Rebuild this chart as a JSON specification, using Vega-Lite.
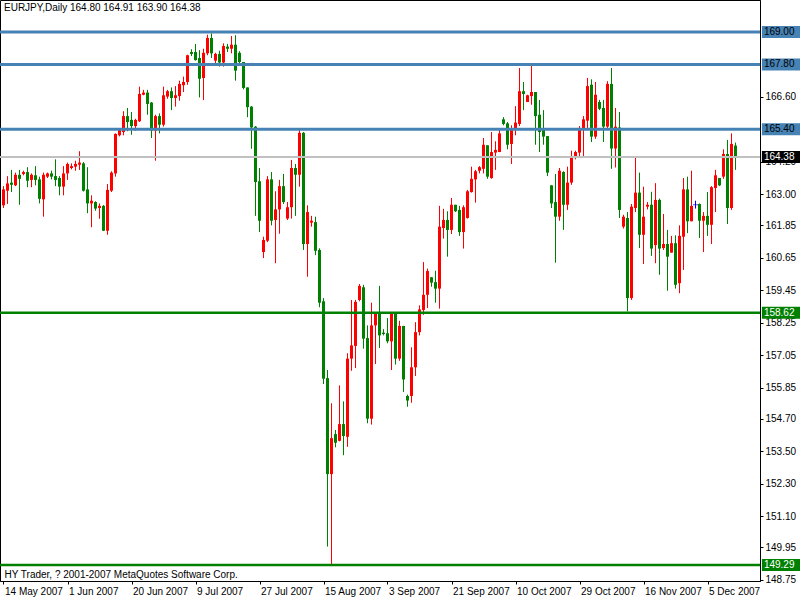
{
"$schema":"https://vega.github.io/schema/vega-lite/v6.json",
"width":760,"height":581,
"autosize":"none",
"padding":{"left":0,"top":0,"right":40,"bottom":19},
"background":"white",
"config":{"view":{"stroke":"black","strokeWidth":1},"font":"Liberation Sans","axis":{"labelOverlap":false},"axisY":{"labelOverlap":false}},
"title":{"text":"EURJPY,Daily  164.80 164.91 163.90 164.38","anchor":"start","frame":"group","offset":-13,"dx":4,"font":"Liberation Sans","fontSize":10,"fontWeight":"normal","color":"black"},
"datasets":{
"candles":[
{"i":0,"o":162.59,"h":163.30,"l":162.49,"c":163.18},
{"i":1,"o":163.13,"h":163.67,"l":162.64,"c":163.40},
{"i":2,"o":163.43,"h":163.90,"l":163.08,"c":163.35},
{"i":3,"o":163.33,"h":163.80,"l":163.30,"c":163.72},
{"i":4,"o":163.72,"h":163.90,"l":162.61,"c":163.57},
{"i":5,"o":163.75,"h":163.87,"l":163.70,"c":163.82},
{"i":6,"o":163.82,"h":164.00,"l":163.26,"c":163.50},
{"i":7,"o":163.53,"h":163.77,"l":163.26,"c":163.72},
{"i":8,"o":163.70,"h":164.04,"l":163.33,"c":163.53},
{"i":9,"o":163.55,"h":163.65,"l":162.66,"c":162.83},
{"i":10,"o":162.81,"h":163.80,"l":162.17,"c":163.72},
{"i":11,"o":163.65,"h":163.80,"l":163.60,"c":163.77},
{"i":12,"o":163.77,"h":163.87,"l":163.55,"c":163.65},
{"i":13,"o":163.67,"h":164.29,"l":163.30,"c":163.53},
{"i":14,"o":163.60,"h":163.67,"l":162.96,"c":163.28},
{"i":15,"o":163.28,"h":164.04,"l":162.96,"c":163.77},
{"i":16,"o":163.77,"h":164.17,"l":163.53,"c":164.12},
{"i":17,"o":163.97,"h":164.14,"l":163.92,"c":164.04},
{"i":18,"o":164.02,"h":164.24,"l":163.87,"c":164.12},
{"i":19,"o":164.09,"h":164.59,"l":163.90,"c":164.17},
{"i":20,"o":164.14,"h":164.19,"l":163.10,"c":163.13},
{"i":21,"o":163.18,"h":164.00,"l":162.30,"c":162.66},
{"i":22,"o":162.66,"h":162.96,"l":161.78,"c":162.76},
{"i":23,"o":162.71,"h":162.74,"l":162.39,"c":162.47},
{"i":24,"o":162.49,"h":162.66,"l":162.09,"c":162.57},
{"i":25,"o":162.57,"h":162.60,"l":161.64,"c":161.65},
{"i":26,"o":161.65,"h":163.38,"l":161.50,"c":163.16},
{"i":27,"o":163.13,"h":163.85,"l":163.08,"c":163.80},
{"i":28,"o":163.77,"h":165.25,"l":163.65,"c":165.23},
{"i":29,"o":165.18,"h":165.42,"l":165.14,"c":165.38},
{"i":30,"o":165.30,"h":166.07,"l":165.18,"c":165.89},
{"i":31,"o":165.89,"h":166.19,"l":165.33,"c":165.67},
{"i":32,"o":165.75,"h":166.04,"l":165.20,"c":165.52},
{"i":33,"o":165.52,"h":165.79,"l":165.35,"c":165.75},
{"i":34,"o":165.70,"h":166.98,"l":165.67,"c":166.71},
{"i":35,"o":166.68,"h":166.86,"l":166.66,"c":166.76},
{"i":36,"o":166.76,"h":166.86,"l":165.94,"c":166.34},
{"i":37,"o":166.39,"h":166.41,"l":165.08,"c":165.35},
{"i":38,"o":165.35,"h":165.94,"l":164.24,"c":165.89},
{"i":39,"o":165.89,"h":165.99,"l":165.25,"c":165.57},
{"i":40,"o":165.57,"h":166.98,"l":165.50,"c":166.66},
{"i":41,"o":166.61,"h":166.86,"l":166.53,"c":166.81},
{"i":42,"o":166.81,"h":166.95,"l":166.11,"c":166.56},
{"i":43,"o":166.56,"h":167.00,"l":166.24,"c":166.66},
{"i":44,"o":166.63,"h":167.20,"l":166.46,"c":167.08},
{"i":45,"o":167.03,"h":167.35,"l":166.78,"c":167.15},
{"i":46,"o":167.15,"h":168.16,"l":167.05,"c":168.14},
{"i":47,"o":168.26,"h":168.36,"l":168.11,"c":168.19},
{"i":48,"o":168.26,"h":168.56,"l":167.94,"c":167.96},
{"i":49,"o":168.04,"h":168.33,"l":166.58,"c":167.27},
{"i":50,"o":167.30,"h":168.38,"l":166.48,"c":168.23},
{"i":51,"o":168.21,"h":168.90,"l":168.14,"c":168.78},
{"i":52,"o":168.78,"h":168.95,"l":168.04,"c":168.21},
{"i":53,"o":167.94,"h":168.23,"l":167.74,"c":168.19},
{"i":54,"o":168.19,"h":168.31,"l":167.72,"c":167.87},
{"i":55,"o":167.87,"h":168.58,"l":167.72,"c":168.48},
{"i":56,"o":168.46,"h":168.56,"l":168.26,"c":168.38},
{"i":57,"o":168.38,"h":168.85,"l":168.21,"c":168.53},
{"i":58,"o":168.53,"h":168.88,"l":167.20,"c":167.57},
{"i":59,"o":168.23,"h":168.29,"l":167.84,"c":167.89},
{"i":60,"o":167.89,"h":167.89,"l":166.88,"c":166.93},
{"i":61,"o":166.95,"h":166.95,"l":165.85,"c":166.22},
{"i":62,"o":166.24,"h":166.26,"l":164.68,"c":165.47},
{"i":63,"o":165.50,"h":165.52,"l":162.20,"c":163.45},
{"i":64,"o":163.48,"h":163.97,"l":161.60,"c":162.02},
{"i":65,"o":160.86,"h":161.43,"l":160.64,"c":161.31},
{"i":66,"o":161.28,"h":163.67,"l":161.23,"c":163.55},
{"i":67,"o":163.55,"h":163.82,"l":161.85,"c":162.02},
{"i":68,"o":162.05,"h":163.11,"l":160.45,"c":162.44},
{"i":69,"o":162.44,"h":163.53,"l":161.54,"c":163.30},
{"i":70,"o":163.30,"h":163.75,"l":162.64,"c":162.71},
{"i":71,"o":162.10,"h":162.71,"l":162.05,"c":162.52},
{"i":72,"o":162.52,"h":164.27,"l":162.10,"c":163.97},
{"i":73,"o":163.97,"h":164.12,"l":162.20,"c":163.72},
{"i":74,"o":163.72,"h":165.42,"l":163.28,"c":165.27},
{"i":75,"o":165.27,"h":165.30,"l":160.94,"c":161.16},
{"i":76,"o":161.16,"h":162.59,"l":159.95,"c":162.34},
{"i":77,"o":161.95,"h":162.20,"l":161.80,"c":162.02},
{"i":78,"o":161.97,"h":162.17,"l":160.75,"c":160.91},
{"i":79,"o":160.94,"h":161.00,"l":158.82,"c":158.99},
{"i":80,"o":159.04,"h":159.16,"l":155.98,"c":156.18},
{"i":81,"o":156.20,"h":156.50,"l":149.97,"c":152.65},
{"i":82,"o":152.65,"h":155.27,"l":149.29,"c":153.98},
{"i":83,"o":154.13,"h":154.28,"l":153.64,"c":153.81},
{"i":84,"o":153.88,"h":155.93,"l":153.86,"c":154.50},
{"i":85,"o":154.50,"h":155.34,"l":153.35,"c":154.06},
{"i":86,"o":154.03,"h":157.12,"l":153.66,"c":156.92},
{"i":87,"o":156.92,"h":159.09,"l":156.47,"c":157.41},
{"i":88,"o":157.39,"h":159.09,"l":156.57,"c":159.02},
{"i":89,"o":159.09,"h":159.68,"l":159.04,"c":159.61},
{"i":90,"o":159.56,"h":159.65,"l":157.29,"c":157.66},
{"i":91,"o":157.68,"h":158.15,"l":154.53,"c":154.70},
{"i":92,"o":154.70,"h":158.99,"l":154.48,"c":158.15},
{"i":93,"o":158.15,"h":158.64,"l":156.72,"c":158.57},
{"i":94,"o":158.57,"h":159.61,"l":157.31,"c":157.78},
{"i":95,"o":157.88,"h":158.01,"l":157.78,"c":157.83},
{"i":96,"o":157.86,"h":158.42,"l":157.49,"c":157.56},
{"i":97,"o":157.56,"h":158.64,"l":156.50,"c":158.60},
{"i":98,"o":158.62,"h":158.64,"l":156.70,"c":156.92},
{"i":99,"o":156.92,"h":158.32,"l":156.84,"c":158.13},
{"i":100,"o":158.13,"h":158.13,"l":155.69,"c":156.15},
{"i":101,"o":155.54,"h":155.59,"l":155.14,"c":155.37},
{"i":102,"o":155.54,"h":157.34,"l":155.29,"c":156.60},
{"i":103,"o":156.60,"h":158.27,"l":156.28,"c":157.90},
{"i":104,"o":157.90,"h":158.89,"l":157.78,"c":158.74},
{"i":105,"o":158.72,"h":160.49,"l":158.54,"c":159.28},
{"i":106,"o":159.28,"h":160.25,"l":158.79,"c":160.16},
{"i":107,"o":159.93,"h":159.94,"l":159.58,"c":159.73},
{"i":108,"o":159.75,"h":160.17,"l":158.99,"c":159.51},
{"i":109,"o":159.51,"h":162.57,"l":158.77,"c":161.80},
{"i":110,"o":161.75,"h":162.46,"l":161.36,"c":162.05},
{"i":111,"o":162.05,"h":162.37,"l":160.69,"c":161.68},
{"i":112,"o":161.68,"h":162.86,"l":161.53,"c":162.61},
{"i":113,"o":162.61,"h":162.61,"l":162.34,"c":162.37},
{"i":114,"o":162.42,"h":162.57,"l":161.46,"c":161.60},
{"i":115,"o":161.60,"h":162.59,"l":160.99,"c":162.52},
{"i":116,"o":162.12,"h":163.16,"l":162.10,"c":163.11},
{"i":117,"o":163.08,"h":164.02,"l":163.06,"c":163.57},
{"i":118,"o":163.55,"h":163.90,"l":162.69,"c":163.85},
{"i":119,"o":163.87,"h":164.04,"l":163.77,"c":164.00},
{"i":120,"o":163.94,"h":165.08,"l":163.77,"c":164.83},
{"i":121,"o":164.81,"h":164.81,"l":163.57,"c":163.65},
{"i":122,"o":163.60,"h":165.30,"l":163.57,"c":164.56},
{"i":123,"o":164.54,"h":164.96,"l":163.90,"c":164.64},
{"i":124,"o":164.56,"h":165.40,"l":164.56,"c":165.25},
{"i":125,"o":165.77,"h":165.85,"l":165.55,"c":165.60},
{"i":126,"o":165.62,"h":165.67,"l":164.66,"c":164.83},
{"i":127,"o":164.86,"h":165.55,"l":164.12,"c":165.40},
{"i":128,"o":165.38,"h":166.26,"l":165.18,"c":165.65},
{"i":129,"o":165.60,"h":167.67,"l":165.52,"c":166.81},
{"i":130,"o":166.81,"h":167.15,"l":166.11,"c":166.71},
{"i":131,"o":166.41,"h":166.68,"l":166.41,"c":166.66},
{"i":132,"o":166.63,"h":167.77,"l":166.31,"c":166.78},
{"i":133,"o":166.78,"h":166.78,"l":164.83,"c":165.89},
{"i":134,"o":165.94,"h":166.49,"l":164.56,"c":165.30},
{"i":135,"o":165.38,"h":166.11,"l":164.83,"c":165.13},
{"i":136,"o":165.15,"h":165.15,"l":163.67,"c":163.80},
{"i":137,"o":163.33,"h":163.33,"l":162.49,"c":162.66},
{"i":138,"o":162.71,"h":163.75,"l":160.47,"c":162.17},
{"i":139,"o":162.17,"h":163.97,"l":162.02,"c":163.87},
{"i":140,"o":163.82,"h":163.85,"l":161.68,"c":162.61},
{"i":141,"o":162.61,"h":164.02,"l":162.42,"c":163.43},
{"i":142,"o":163.43,"h":164.61,"l":163.35,"c":164.39},
{"i":143,"o":164.34,"h":164.61,"l":164.29,"c":164.56},
{"i":144,"o":164.54,"h":165.52,"l":164.41,"c":165.38},
{"i":145,"o":165.40,"h":165.89,"l":164.41,"c":165.77},
{"i":146,"o":165.72,"h":167.30,"l":165.38,"c":167.00},
{"i":147,"o":167.05,"h":167.25,"l":164.93,"c":165.13},
{"i":148,"o":165.13,"h":167.15,"l":165.05,"c":166.68},
{"i":149,"o":166.41,"h":166.49,"l":166.11,"c":166.16},
{"i":150,"o":166.19,"h":166.49,"l":164.93,"c":165.50},
{"i":151,"o":165.50,"h":167.18,"l":165.45,"c":167.08},
{"i":152,"o":167.08,"h":167.67,"l":163.94,"c":164.69},
{"i":153,"o":164.69,"h":166.19,"l":163.99,"c":165.50},
{"i":154,"o":165.47,"h":166.04,"l":162.12,"c":162.42},
{"i":155,"o":161.80,"h":162.24,"l":161.73,"c":162.17},
{"i":156,"o":162.12,"h":162.34,"l":158.67,"c":159.16},
{"i":157,"o":159.16,"h":162.64,"l":159.09,"c":162.54},
{"i":158,"o":162.49,"h":164.34,"l":162.34,"c":163.06},
{"i":159,"o":163.06,"h":163.80,"l":161.01,"c":161.50},
{"i":160,"o":161.50,"h":163.28,"l":160.42,"c":162.17},
{"i":161,"o":162.54,"h":162.71,"l":162.44,"c":162.61},
{"i":162,"o":162.61,"h":163.09,"l":160.72,"c":160.99},
{"i":163,"o":161.12,"h":163.41,"l":160.45,"c":162.79},
{"i":164,"o":162.79,"h":162.84,"l":160.02,"c":160.99},
{"i":165,"o":161.01,"h":162.27,"l":160.94,"c":161.16},
{"i":166,"o":161.16,"h":161.68,"l":159.43,"c":160.69},
{"i":167,"o":160.84,"h":161.46,"l":160.84,"c":161.19},
{"i":168,"o":161.19,"h":161.48,"l":159.51,"c":159.65},
{"i":169,"o":159.71,"h":161.85,"l":159.34,"c":161.46},
{"i":170,"o":161.43,"h":163.60,"l":160.20,"c":163.18},
{"i":171,"o":163.18,"h":163.65,"l":161.56,"c":162.00},
{"i":172,"o":162.00,"h":163.87,"l":162.00,"c":162.57},
{"i":173,"o":162.61,"h":162.76,"l":162.47,"c":162.61},
{"i":174,"o":162.64,"h":162.66,"l":161.38,"c":162.02},
{"i":175,"o":162.02,"h":162.34,"l":160.86,"c":162.20},
{"i":176,"o":162.20,"h":163.08,"l":161.46,"c":161.87},
{"i":177,"o":161.87,"h":163.30,"l":161.16,"c":163.26},
{"i":178,"o":163.23,"h":163.90,"l":162.34,"c":163.70},
{"i":179,"o":163.60,"h":163.60,"l":163.30,"c":163.33},
{"i":180,"o":163.65,"h":164.66,"l":163.57,"c":164.49},
{"i":181,"o":164.49,"h":165.01,"l":161.90,"c":162.49},
{"i":182,"o":162.49,"h":165.25,"l":162.42,"c":164.86},
{"i":183,"o":164.80,"h":164.91,"l":163.90,"c":164.38}
],
"levels":[
{"level":169.00,"label":"169.00","kind":"resistance"},
{"level":167.80,"label":"167.80","kind":"resistance"},
{"level":165.40,"label":"165.40","kind":"resistance"},
{"level":164.38,"label":"164.38","kind":"bid"},
{"level":158.62,"label":"158.62","kind":"support"},
{"level":149.29,"label":"149.29","kind":"support"}
]
},
"layer":[
{
"data":{"name":"candles"},
"mark":{"type":"rule","strokeWidth":1},
"encoding":{
"x":{"field":"i","type":"quantitative","scale":{"domain":[-0.875,189.125],"nice":false,"zero":false,"padding":0},
"axis":{"values":[0,16,32,48,64,80,96,112,128,144,160,176],
"labelExpr":"['14 May 2007','1 Jun 2007','20 Jun 2007','9 Jul 2007','27 Jul 2007','15 Aug 2007','3 Sep 2007','21 Sep 2007','10 Oct 2007','29 Oct 2007','16 Nov 2007','5 Dec 2007'][round(datum.value/16)]",
"labelAlign":"left","labelBaseline":"top","labelFlush":false,"labelOverlap":false,"labelOffset":1,"labelPadding":2,"grid":false,"tickSize":3,"tickColor":"black","domainColor":"black","labelFont":"Liberation Sans","labelFontSize":10,"labelColor":"black",
"title":"HY Trader, ? 2001-2007 MetaQuotes Software Corp.","titleX":4,"titleY":-2,"titleAlign":"left","titleAnchor":"start","titleBaseline":"bottom","titleFontWeight":"normal","titleFont":"Liberation Sans","titleFontSize":10,"titleColor":"black"}},
"y":{"field":"l","type":"quantitative","scale":{"domain":[148.697,170.183],"nice":false,"zero":false,"padding":0},
"axis":{"orient":"right","values":[148.75,149.95,151.10,152.30,153.50,154.70,155.85,157.05,158.25,159.45,160.65,161.85,163.00,164.20,166.60],"format":".2f","grid":false,"tickSize":3,"tickColor":"black","domainColor":"black","labelFont":"Liberation Sans","labelFontSize":10,"labelColor":"black","labelPadding":2,"labelOverlap":false,"labelFlush":false,"title":null}},
"y2":{"field":"h"},
"color":{"condition":[{"test":"datum.c > datum.o","value":"#ff0000"},{"test":"datum.c < datum.o","value":"#008000"}],"value":"#0000ff"}
}
},
{
"data":{"name":"candles"},
"mark":{"type":"bar"},
"encoding":{
"x":{"field":"i","type":"quantitative"},
"y":{"field":"o","type":"quantitative"},
"y2":{"field":"c"},
"size":{"value":3},
"color":{"condition":[{"test":"datum.c > datum.o","value":"#ff0000"},{"test":"datum.c < datum.o","value":"#008000"}],"value":"#0000ff"}
}
},
{
"data":{"name":"candles"},
"transform":[{"filter":"datum.o == datum.c"}],
"mark":{"type":"tick","orient":"horizontal","thickness":1,"size":5,"color":"#0000ff"},
"encoding":{
"x":{"field":"i","type":"quantitative"},
"y":{"field":"c","type":"quantitative"}
}
},
{
"data":{"name":"levels"},
"mark":{"type":"rule"},
"encoding":{
"y":{"field":"level","type":"quantitative"},
"stroke":{"field":"kind","type":"nominal","scale":{"domain":["resistance","support","bid"],"range":["#4682b4","#008000","#c0c0c0"]},"legend":null},
"strokeWidth":{"field":"kind","type":"nominal","scale":{"domain":["resistance","support","bid"],"range":[3,2,1]},"legend":null}
}
},
{
"data":{"name":"levels"},
"mark":{"type":"bar"},
"encoding":{
"x":{"datum":189.6},
"x2":{"datum":199.2},
"y":{"field":"level","type":"quantitative"},
"size":{"value":12},
"fill":{"field":"kind","type":"nominal","scale":{"domain":["resistance","support","bid"],"range":["#4682b4","#008000","#000000"]},"legend":null}
}
},
{
"data":{"name":"levels"},
"mark":{"type":"text","align":"left","baseline":"middle","font":"Liberation Sans","fontSize":10,"dx":2},
"encoding":{
"x":{"datum":189.6},
"y":{"field":"level","type":"quantitative"},
"text":{"field":"label"},
"color":{"condition":{"test":"datum.kind == 'resistance'","value":"#000000"},"value":"#ffffff"}
}
}
]
}
